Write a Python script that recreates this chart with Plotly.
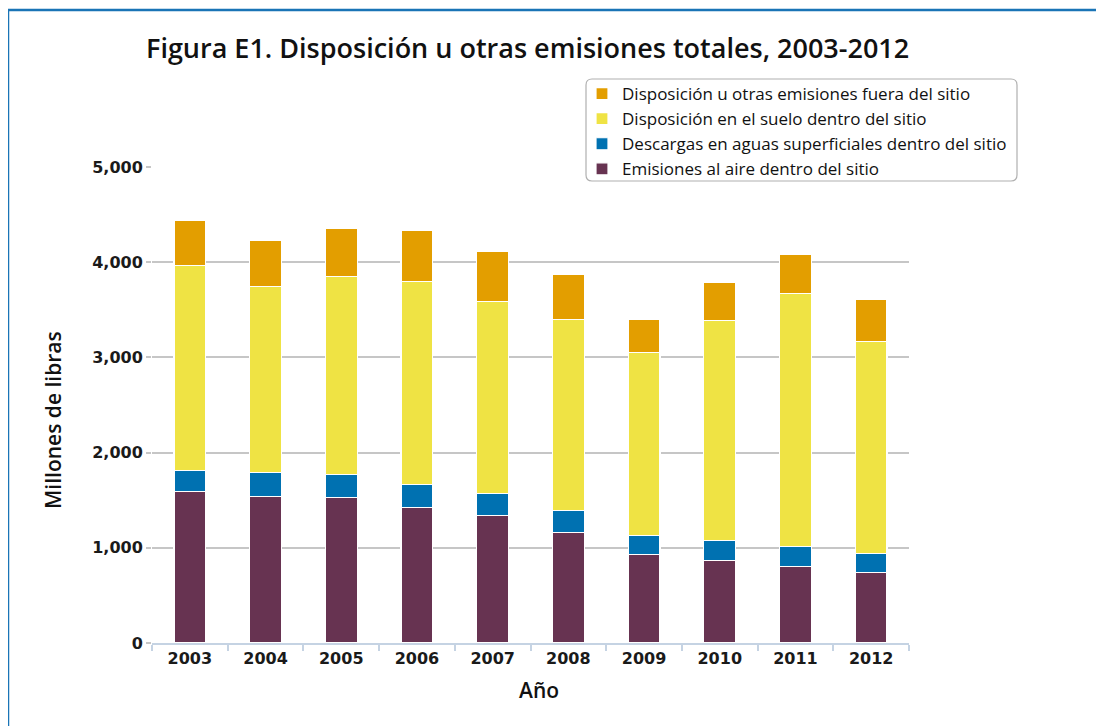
import plotly.graph_objects as go

years = ["2003", "2004", "2005", "2006", "2007", "2008", "2009", "2010", "2011", "2012"]
air = [1590, 1543, 1525, 1420, 1343, 1161, 929, 870, 806, 740]
water = [225, 245, 246, 245, 228, 235, 197, 210, 211, 200]
land = [2150, 1957, 2079, 2132, 2016, 2005, 1924, 2304, 2658, 2226]
offsite = [470, 480, 509, 533, 526, 466, 344, 406, 410, 445]

names = [
    "Emisiones al aire dentro del sitio",
    "Descargas en aguas superficiales dentro del sitio",
    "Disposición en el suelo dentro del sitio",
    "Disposición u otras emisiones fuera del sitio",
]
colors = ["#673351", "#0071b1", "#efe344", "#e39e00"]
series = [air, water, land, offsite]

W, H = 1104, 726
OFF = 8  # page body margin
L, R, T, B = 152, 909, 167, 643  # plot area in page pixels


def px(x):
    return (x - L) / (R - L)


def py(y):
    return (B - y) / (B - T)


fig = go.Figure()
for n, c, s in zip(names, colors, series):
    fig.add_trace(go.Bar(
        x=years, y=s, name=n,
        marker=dict(color=c, line=dict(color="white", width=1.2)),
        width=0.42,
    ))

# rounded legend box
x0, x1 = px(586), px(1017)
y0, y1 = py(79), py(181)
rx, ry = 6 / (R - L), 6 / (B - T)
path = (f"M {x0+rx},{y0} L {x1-rx},{y0} Q {x1},{y0} {x1},{y0-ry} "
        f"L {x1},{y1+ry} Q {x1},{y1} {x1-rx},{y1} "
        f"L {x0+rx},{y1} Q {x0},{y1} {x0},{y1+ry} "
        f"L {x0},{y0-ry} Q {x0},{y0} {x0+rx},{y0} Z")

shapes = [
    dict(type="path", xref="paper", yref="paper", path=path,
         line=dict(color="#b0b0b0", width=1.2), fillcolor="white", layer="below"),
    dict(type="line", xref="paper", yref="paper", x0=px(8), x1=px(8),
         y0=py(9), y1=py(740), line=dict(color="#1a74b6", width=2.5)),
    dict(type="line", xref="paper", yref="paper", x0=px(7), x1=px(1120),
         y0=py(10), y1=py(10), line=dict(color="#1a74b6", width=2.5)),
]

annotations = [
    dict(text="Figura E1. Disposición u otras emisiones totales, 2003-2012",
         xref="paper", yref="paper", x=px(527), y=py(47), xanchor="center",
         yanchor="middle", showarrow=False,
         font=dict(family="Open Sans", size=27, color="#111111", weight=600)),
    dict(text="Millones de libras", xref="paper", yref="paper", x=px(53), y=py(420),
         xanchor="center", yanchor="middle", textangle=-90, showarrow=False,
         font=dict(family="Open Sans", size=21, color="#111111", weight=600)),
    dict(text="Año", xref="paper", yref="paper", x=px(539), y=py(690),
         xanchor="center", yanchor="middle", showarrow=False,
         font=dict(family="Open Sans", size=21, color="#111111", weight=600)),
]

fig.update_layout(
    width=W, height=H,
    margin=dict(l=L - OFF, r=W - (R - OFF), t=T - OFF, b=H - (B - OFF)),
    barmode="stack",
    bargap=0.58,
    plot_bgcolor="white", paper_bgcolor="white",
    font=dict(family="Open Sans"),
    showlegend=True,
    legend=dict(
        x=px(582), y=py(76), xanchor="left", yanchor="top",
        traceorder="reversed", bgcolor="rgba(0,0,0,0)", borderwidth=0,
        font=dict(family="Open Sans", size=17, color="#111111"),
        tracegroupgap=0, itemclick=False,
    ),
    shapes=shapes,
    annotations=annotations,
    xaxis=dict(
        type="category", showgrid=False, showline=True, linecolor="#c5d3e3",
        linewidth=2, ticks="outside", tickson="boundaries", ticklen=6,
        tickcolor="#c5d3e3", tickwidth=1.5,
        tickfont=dict(family="DejaVu Sans", size=16, color="#1a1a1a", weight="bold"),
    ),
    yaxis=dict(
        range=[0, 5000], tickvals=[0, 1000, 2000, 3000, 4000, 5000],
        tickformat=",", showgrid=True, gridcolor="#c6c6c6", gridwidth=1.5,
        zeroline=False, showline=False, ticks="outside", ticklen=5,
        tickcolor="#c6c6c6", tickwidth=1.5,
        tickfont=dict(family="DejaVu Sans", size=16, color="#1a1a1a", weight="bold"),
    ),
)

fig.write_html("out.html")
